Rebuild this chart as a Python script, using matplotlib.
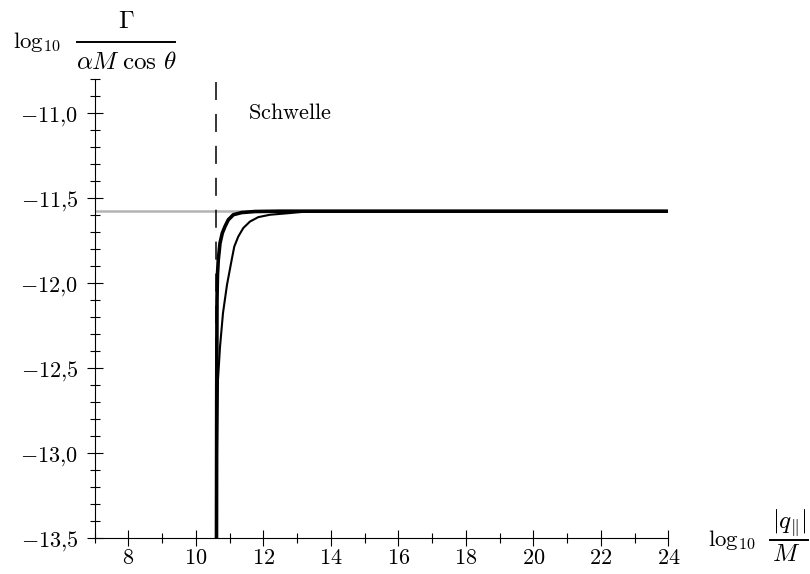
import matplotlib
matplotlib.use("Agg")
import matplotlib.pyplot as plt
from matplotlib.lines import Line2D
import numpy as np

plt.rcParams['mathtext.fontset'] = 'cm'

# Data
level = -11.577          # asymptotic value
threshold = 10.59        # "Schwelle"

thick_x = [10.612, 10.618, 10.627, 10.641, 10.665, 10.716, 10.784, 10.864,
           10.961, 11.110, 11.359, 11.753, 12.493, 24.0]
thick_y = [-13.5, -12.686, -12.098, -11.951, -11.863, -11.765, -11.706, -11.667,
           -11.628, -11.598, -11.585, -11.579, -11.577, -11.577]

thin_x = [10.618, 10.627, 10.656, 10.716, 10.805, 10.923, 11.062, 11.139,
          11.258, 11.406, 11.604, 11.850, 12.197, 12.790, 13.284, 14.271, 24.0]
thin_y = [-13.5, -12.981, -12.569, -12.375, -12.175, -12.010, -11.863, -11.785,
          -11.726, -11.676, -11.638, -11.612, -11.598, -11.588, -11.579, -11.577, -11.577]

xticks = [8, 10, 12, 14, 16, 18, 20, 22, 24]
yticks = [-13.5, -13.0, -12.5, -12.0, -11.5, -11.0]
ytick_labels = [r'$-13{,}5$', r'$-13{,}0$', r'$-12{,}5$', r'$-12{,}0$', r'$-11{,}5$', r'$-11{,}0$']

W, H = 810, 574
fig = plt.figure(figsize=(W / 100, H / 100), dpi=100)
ax = fig.add_axes([94.6 / W, 1 - 538.3 / H, 573.7 / W, 459.3 / H])


def px(x, y):
    return x / W, 1 - y / H


ax.plot([7, 24], [level, level], color='#b4b4b4', lw=1.8, zorder=1)
ax.plot([threshold, threshold], [-10.82, -13.5], color='black', lw=1.1,
        dashes=(11.8, 9.1), zorder=2)
ax.plot(thin_x, thin_y, color='black', lw=1.5, zorder=3, solid_joinstyle='round')
ax.plot(thick_x, thick_y, color='black', lw=2.6, zorder=4, solid_joinstyle='round')

ax.text(11.56, -11.0, r'$\mathrm{Schwelle}$', fontsize=16, ha='left', va='center')

ax.set_xlim(7, 24)
ax.set_ylim(-13.5, -10.8)
for s in ['top', 'right']:
    ax.spines[s].set_visible(False)
for s in ['left', 'bottom']:
    ax.spines[s].set_linewidth(0.8)

ax.set_xticks(xticks)
ax.set_xticklabels([rf'${v}$' for v in xticks])
ax.set_xticks(np.arange(7, 25, 1), minor=True)
ax.set_yticks(yticks)
ax.set_yticklabels(ytick_labels)
ax.set_yticks(np.arange(-13.5, -10.75, 0.1), minor=True)
ax.tick_params(which='major', direction='inout', length=11.5, width=0.8,
               labelsize=16, pad=6)
ax.tick_params(axis='x', which='major', pad=1)
ax.tick_params(which='minor', direction='inout', length=7, width=0.8)

# y axis label: log10 Gamma / (alpha M cos theta)
fig.text(*px(13, 47.5), r'$\log_{10}$', fontsize=16.5, ha='left', va='baseline')
fig.text(*px(126, 20.5), r'$\Gamma$', fontsize=18, ha='center', va='center')
fig.text(*px(126, 62), r'$\alpha M\;\cos\,\theta$', fontsize=18, ha='center', va='center')
fig.add_artist(Line2D([77 / W, 175 / W], [1 - 42 / H, 1 - 42 / H],
                      color='black', lw=1.4, transform=fig.transFigure))

# x axis label: log10 |q_par| / M
fig.text(*px(707.7, 546), r'$\log_{10}$', fontsize=16.5, ha='left', va='baseline')
fig.text(*px(789, 523), r'$|q_{\Vert}|$', fontsize=18, ha='center', va='center')
fig.text(*px(786, 554), r'$M$', fontsize=18, ha='center', va='center')
fig.add_artist(Line2D([770 / W, 808 / W], [1 - 540 / H, 1 - 540 / H],
                      color='black', lw=1.4, transform=fig.transFigure))

fig.savefig('out.png', dpi=100)
